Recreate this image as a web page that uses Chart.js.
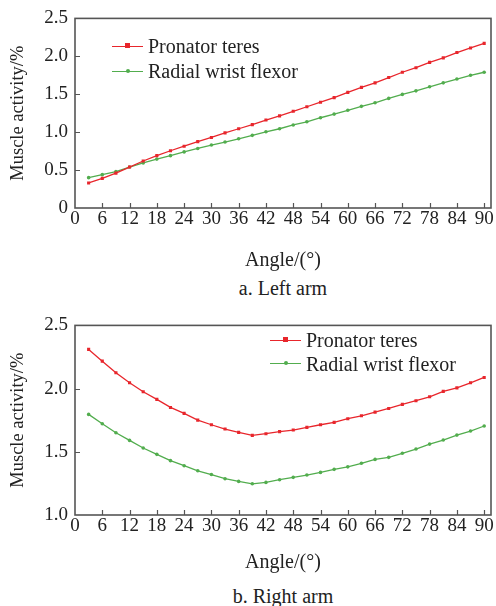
<!DOCTYPE html>
<html>
<head>
<meta charset="utf-8">
<script src="https://cdn.jsdelivr.net/npm/chart.js@4/dist/chart.umd.min.js"></script>
<style>
    body { margin: 0; background: #fff; font-family: "Liberation Serif", "Times New Roman", serif; color: #222; }
    #page { position: relative; width: 496px; height: 606px; overflow: hidden; }
    .box { position: absolute; left: 0; width: 496px; }
    .caption { position: absolute; left: 75px; width: 416px; text-align: center; font-size: 20px; line-height: 22px; }
    .legend { position: absolute; font-size: 20px; }
    .legend-item { position: relative; line-height: 24px; height: 24px; padding-left: 36px; white-space: nowrap; }
    .legend-item .swatch { position: absolute; left: 0; top: 11px; width: 31px; height: 0; border-top: 1.5px solid; }
    .legend-item .swatch i { position: absolute; left: 13px; top: -3.5px; width: 5px; height: 5px; }
</style>
</head>
<body>
<div id="page">
    <div class="box" style="top:0; height:273px"><canvas id="leftChart"></canvas></div>
    <div class="legend" id="leftLegend" style="left:112px; top:34px"></div>
    <div class="caption" style="top:277px">a. Left arm</div>

    <div class="box" style="top:307px; height:268px"><canvas id="rightChart"></canvas></div>
    <div class="legend" id="rightLegend" style="left:270px; top:329px"></div>
    <div class="caption" style="top:585px">b. Right arm</div>
</div>

<script>
// --- Data ---
const angles = [3, 6, 9, 12, 15, 18, 21, 24, 27, 30, 33, 36, 39, 42, 45, 48, 51, 54, 57, 60, 63, 66, 69, 72, 75, 78, 81, 84, 87, 90];
const xTicks = [0, 6, 12, 18, 24, 30, 36, 42, 48, 54, 60, 66, 72, 78, 84, 90];

const leftPronator = [0.33, 0.39, 0.46, 0.54, 0.62, 0.69, 0.755, 0.815, 0.875, 0.93, 0.99, 1.045, 1.10, 1.16, 1.215, 1.275, 1.335, 1.395, 1.455, 1.525, 1.59, 1.65, 1.72, 1.79, 1.85, 1.92, 1.98, 2.05, 2.11, 2.17];
const leftRadial = [0.40, 0.44, 0.48, 0.54, 0.595, 0.645, 0.69, 0.74, 0.785, 0.83, 0.87, 0.913, 0.958, 1.005, 1.045, 1.095, 1.137, 1.19, 1.238, 1.288, 1.34, 1.387, 1.445, 1.498, 1.545, 1.598, 1.65, 1.70, 1.75, 1.79];
const leftYTicks = [0, 0.5, 1.0, 1.5, 2.0, 2.5];
const leftYLabels = ['0', '0.5', '1.0', '1.5', '2.0', '2.5'];

const rightPronator = [2.31, 2.217, 2.125, 2.046, 1.975, 1.915, 1.851, 1.804, 1.751, 1.714, 1.68, 1.654, 1.63, 1.643, 1.66, 1.672, 1.693, 1.714, 1.733, 1.762, 1.785, 1.814, 1.843, 1.875, 1.904, 1.935, 1.978, 2.006, 2.046, 2.088];
const rightRadial = [1.796, 1.722, 1.651, 1.59, 1.53, 1.48, 1.43, 1.39, 1.35, 1.32, 1.287, 1.266, 1.247, 1.258, 1.279, 1.298, 1.316, 1.337, 1.361, 1.381, 1.409, 1.44, 1.456, 1.488, 1.522, 1.561, 1.593, 1.632, 1.664, 1.704];
const rightYTicks = [1.0, 1.5, 2.0, 2.5];
const rightYLabels = ['1.0', '1.5', '2.0', '2.5'];

const seriesNames = ['Pronator teres', 'Radial wrist flexor'];
const RED = '#e8262c';
const GREEN = '#52ad4e';
const FRAME = '#555';

// --- Frame + inward tick marks ---
const framePlugin = {
    id: 'frame',
    afterDraw(chart) {
        const { ctx, chartArea: a, scales } = chart;
        ctx.save();
        ctx.strokeStyle = FRAME;
        ctx.lineWidth = 1.6;
        ctx.strokeRect(a.left, a.top, a.right - a.left, a.bottom - a.top);
        ctx.lineWidth = 1.2;
        ctx.beginPath();
        scales.x.ticks.forEach(t => {
            if (t.value === 0) return;
            const px = Math.round(scales.x.getPixelForValue(t.value)) + 0.5;
            ctx.moveTo(px, a.bottom);
            ctx.lineTo(px, a.bottom - 5);
        });
        scales.y.ticks.forEach((t, i) => {
            if (i === 0 || i === scales.y.ticks.length - 1) return;
            const py = Math.round(scales.y.getPixelForValue(t.value)) + 0.5;
            ctx.moveTo(a.left, py);
            ctx.lineTo(a.left + 5, py);
        });
        ctx.stroke();
        ctx.restore();
    }
};

function makeDataset(label, values, color, pointStyle, radius) {
    return {
        label: label,
        data: angles.map((a, i) => ({ x: a, y: values[i] })),
        borderColor: color,
        backgroundColor: color,
        borderWidth: 1.3,
        pointStyle: pointStyle,
        pointRadius: radius,
        pointBorderWidth: 0,
        tension: 0
    };
}

function buildChart(canvasId, boxHeight, pronator, radial, yMin, yTicks, yLabels) {
    const family = '"Liberation Serif", "Times New Roman", serif';
    const tickFont = { family: family, size: 19 };
    return new Chart(document.getElementById(canvasId), {
        type: 'line',
        data: {
            datasets: [
                makeDataset(seriesNames[0], pronator, RED, 'rect', 2.2),
                makeDataset(seriesNames[1], radial, GREEN, 'circle', 1.8)
            ]
        },
        options: {
            responsive: true,
            maintainAspectRatio: false,
            animation: false,
            layout: { padding: { top: 18, right: 5, left: 0, bottom: 0 } },
            plugins: { legend: { display: false }, tooltip: { enabled: false } },
            scales: {
                x: {
                    type: 'linear',
                    min: 0,
                    max: 91.5,
                    afterBuildTicks: scale => { scale.ticks = xTicks.map(v => ({ value: v })); },
                    afterFit: scale => { scale.height = boxHeight - 208; },
                    grid: { display: false, drawTicks: false },
                    border: { display: false },
                    ticks: { color: '#222', font: tickFont, padding: 0, maxRotation: 0, autoSkip: false },
                    title: { display: true, text: 'Angle/(°)', color: '#222', font: { family: family, size: 20 }, padding: 0 }
                },
                y: {
                    min: yMin,
                    max: 2.5,
                    afterBuildTicks: scale => { scale.ticks = yTicks.map(v => ({ value: v })); },
                    afterFit: scale => { scale.width = 75; },
                    grid: { display: false, drawTicks: false },
                    border: { display: false },
                    ticks: {
                        color: '#222',
                        font: tickFont,
                        padding: 7,
                        callback: (value) => yLabels[yTicks.indexOf(value)]
                    },
                    title: { display: true, text: 'Muscle activity/%', color: '#222', font: { family: family, size: 18.5 }, padding: { top: 7 } }
                }
            }
        },
        plugins: [framePlugin]
    });
}

function buildLegend(elId, rowHeight) {
    const el = document.getElementById(elId);
    const colors = [RED, GREEN];
    el.innerHTML = seriesNames.map((name, i) => {
        const marker = i === 0 ? 'border-radius:0' : 'border-radius:50%; width:4px; height:4px; left:13.5px; top:-3px';
        return `<div class="legend-item" style="height:${rowHeight}px; line-height:${rowHeight}px"><span class="swatch" style="border-color:${colors[i]}; top:${rowHeight / 2 - 1}px"><i style="background:${colors[i]}; ${marker}"></i></span>${name}</div>`;
    }).join('');
}

document.addEventListener('DOMContentLoaded', function () {
    buildChart('leftChart', 273, leftPronator, leftRadial, 0, leftYTicks, leftYLabels);
    buildChart('rightChart', 268, rightPronator, rightRadial, 1.0, rightYTicks, rightYLabels);
    buildLegend('leftLegend', 25);
    buildLegend('rightLegend', 23.5);
});
</script>
</body>
</html>
